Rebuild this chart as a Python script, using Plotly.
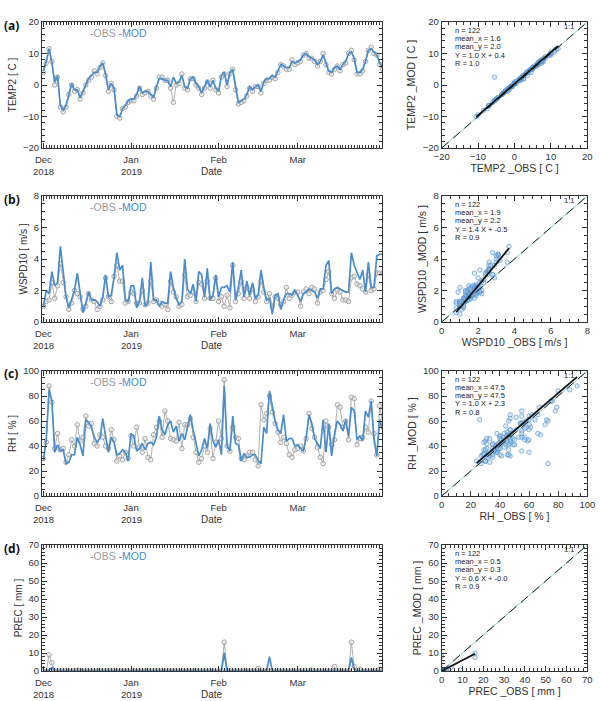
import plotly.graph_objects as go
import pandas as pd

# ---------------- data ----------------
dates = pd.date_range("2018-12-01", periods=122, freq="D")

temp_obs = [4, 7, 11.5, 7.5, 0, 2.5, -7, -8.5, -7, -3,
            0, -2, -1.5, -4.5, -2.5, 0, 1.5, 2.5, 4.5, 3.5,
            5.5, 7, 3, -2, 0.5, -1.5, -10, -10.5, -7.5, -7,
            -5.5, -5, -5, -3.5, -1, -3, -2.5, -2, -3.5, -4.5,
            -1, 2.5, 2.5, 1.5, 1.5, -1, -5.5, 0, 0.5, 3.5,
            -1, -1.5, 2, 2, 0, -1, -3, -1, 1, -1,
            1.5, -1.5, -2.5, 2.5, 3.5, -0.5, 3.5, 5, -1.5, -6,
            -5.5, -5, -3.5, -1, -2, -0.5, -0.5, -2.5, 0.5, 1.5,
            1.5, 2.5, 2, 4, 6.5, 6, 5, 5, 8, 6.5,
            7, 7.5, 9.5, 10, 8.5, 8.5, 7.5, 6, 7.5, 10,
            6.5, 4, 3.5, 5, 6, 4.5, 6.5, 7, 10, 11,
            8, 3.5, 3.5, 4.5, 7.5, 11, 12, 10, 9.5, 6.5,
            5, 4.5]
temp_mod = [4.5, 7.5, 11.5, 7, 1, 3, -6.5, -8, -6.5, -2.5,
            0.5, -1.5, -1.5, -4, -2, 0.5, 2, 3, 4, 4,
            6, 7, 3.5, -1.5, 0.5, -1, -9.5, -10, -7.5, -6.5,
            -5, -4.5, -4.5, -3, -0.5, -2.5, -2, -2, -3, -4,
            -0.5, 2, 2, 1.5, 1.5, -0.5, 2.5, 0.5, 1, 3,
            -0.5, -1, 2, 2.5, 0.5, -0.5, -2.5, -0.5, 1.5, -0.5,
            1.5, -1, -2, 3, 4, 0, 4, 5, -1, -5.5,
            -5, -4.5, -3, -0.5, -1.5, -0.5, 0, -2, 1, 2,
            2, 3, 2.5, 4.5, 6.5, 6, 5.5, 5.5, 7.5, 7,
            7.5, 8, 9.5, 10, 9, 8.5, 8, 6.5, 7.5, 9.5,
            7, 4.5, 4, 5.5, 6, 5, 6.5, 7.5, 10, 10.5,
            8.5, 4, 4, 5, 7.5, 11, 11.5, 10.5, 9.5, 7,
            5.5, 5]

wspd_obs = [1.0, 1.3, 1.4, 2.5, 1.5, 2.3, 3.7, 2.5, 1.6, 0.8,
            1.2, 2.0, 1.8, 1.6, 0.8, 1.0, 1.8, 1.4, 1.3, 0.8,
            1.0, 1.4, 2.8, 1.6, 1.3, 2.9, 3.6, 2.6, 2.6, 1.2,
            1.3, 1.9, 1.8, 1.2, 1.2, 2.0, 1.1, 1.2, 2.6, 1.3,
            1.4, 1.2, 1.0, 1.1, 0.8, 2.6, 1.9, 1.6, 1.0, 1.1,
            3.0, 1.6, 1.7, 1.9, 1.3, 2.5, 2.4, 1.5, 2.6, 1.5,
            1.5, 2.8, 1.3, 1.6, 1.0, 1.7, 0.9, 3.6, 1.3, 1.8,
            2.6, 1.5, 2.2, 1.5, 2.1, 1.3, 1.6, 2.6, 1.9, 1.3,
            1.8, 1.0, 1.6, 1.5, 1.1, 1.3, 2.2, 1.5, 1.7, 1.9,
            1.9, 1.0, 1.9, 2.1, 1.8, 2.2, 2.1, 1.2, 1.9, 2.0,
            2.7, 3.2, 1.8, 1.5, 2.0, 1.9, 1.4, 1.4, 1.3, 2.8,
            2.9, 2.4, 2.3, 2.1, 1.9, 3.0, 2.0, 2.1, 3.1, 3.1,
            3.1, 3.0]
wspd_mod = [1.0, 2.0, 1.8, 3.2, 2.3, 2.5, 4.8, 3.0, 1.6, 0.9,
            1.5, 2.0, 3.1, 1.8, 0.6, 1.2, 1.9, 1.4, 1.4, 1.3,
            1.0, 1.6, 3.0, 1.6, 1.7, 2.8, 4.4, 3.3, 3.6, 1.4,
            1.3, 2.3, 2.3, 0.9, 1.3, 2.8, 1.0, 1.2, 3.8, 1.4,
            1.4, 1.0, 1.3, 1.2, 1.2, 3.2, 2.2, 1.5, 1.1, 1.3,
            4.0, 2.1, 1.8, 2.4, 1.3, 3.2, 3.0, 1.6, 3.4, 1.4,
            1.7, 3.0, 1.6, 2.2, 2.2, 2.3, 1.9, 3.8, 1.4, 2.2,
            3.3, 1.6, 2.6, 1.7, 2.5, 1.5, 1.7, 3.3, 2.2, 1.4,
            1.5, 0.5, 1.7, 1.8, 0.8, 1.4, 1.8, 1.8, 1.7, 2.0,
            1.7, 1.3, 1.8, 1.9, 2.1, 2.0, 1.9, 1.5, 2.1, 2.1,
            3.6, 3.9, 1.8, 2.1, 2.2, 2.1, 2.0, 1.9, 1.9, 4.4,
            3.6, 3.1, 2.7, 3.3, 1.9, 3.8, 2.2, 2.2, 4.2, 4.3,
            4.3, 4.2]

rh_obs = [30, 43, 88, 75, 38, 50, 37, 38, 27, 33,
          45, 40, 57, 44, 47, 64, 56, 58, 42, 40,
          49, 47, 40, 38, 53, 45, 28, 32, 29, 35,
          30, 48, 40, 55, 39, 35, 46, 31, 29, 49,
          55, 60, 47, 68, 60, 46, 45, 44, 59, 38,
          57, 57, 62, 47, 35, 27, 30, 40, 35, 54,
          30, 43, 60, 46, 93, 40, 36, 55, 47, 46,
          30, 29, 32, 35, 35, 29, 24, 73, 61, 66,
          80, 67, 58, 51, 43, 47, 42, 33, 31, 37,
          38, 40, 36, 46, 66, 54, 47, 39, 31, 26,
          60, 55, 41, 45, 73, 71, 55, 60, 45, 79,
          78, 41, 46, 47, 55, 51, 76, 50, 33, 72,
          60, 55]
rh_mod = [28, 45, 85, 76, 35, 41, 36, 37, 26, 27,
          33, 33, 47, 41, 32, 61, 59, 55, 47, 43,
          46, 62, 48, 35, 47, 43, 33, 34, 37, 35,
          28, 50, 48, 36, 38, 42, 37, 42, 43, 41,
          47, 64, 53, 49, 57, 60, 51, 56, 44, 50,
          45, 54, 65, 53, 41, 32, 37, 46, 38, 58,
          44, 39, 45, 33, 88, 40, 36, 64, 42, 41,
          28, 34, 31, 31, 33, 33, 28, 26, 55, 50,
          84, 71, 60, 53, 50, 65, 44, 46, 46, 40,
          41, 38, 36, 47, 65, 58, 46, 42, 38, 61,
          35, 58, 32, 49, 60, 57, 52, 61, 48, 71,
          68, 45, 48, 44, 68, 63, 76, 45, 32, 61,
          53, 50]

prec_obs = [0, 0, 9, 4.5, 0, 0, 0, 0, 0, 0,
            0, 0, 0.5, 0, 0, 0, 0, 0, 0, 0,
            0, 0, 0, 0, 0, 0, 0, 0, 0, 0,
            0, 0, 0, 0, 0, 0, 0, 0, 0, 0,
            0, 0, 0, 0, 0, 0, 0, 0, 0, 0,
            0, 0, 0, 0, 0, 0, 0, 0, 0, 0,
            0, 0, 0, 0, 16, 0, 0, 0, 0, 0,
            0, 0, 0, 0, 0, 0, 1.5, 0, 0, 0,
            0, 0, 0, 0, 0, 0, 0, 0, 0, 0,
            0, 0, 0, 0, 0, 0.5, 0, 0, 0, 0,
            0, 0, 0, 2.5, 0, 0, 0, 0, 0, 16,
            2.5, 0, 1, 0, 0, 0, 0, 0, 0, 1,
            0, 0]
prec_mod = [0, 0, 0.5, 2, 0, 0, 0, 0, 0, 0,
            0, 0, 0, 0, 0, 0, 0, 0, 0, 0,
            0, 0, 0, 0, 0, 0, 0, 0, 0, 0,
            0, 0, 0, 0, 0, 0, 0, 0, 0, 0,
            0, 0, 0, 0, 0, 0, 0, 0, 0, 0,
            0, 0, 0, 0, 0, 0, 0, 0, 0, 0,
            0, 0, 0, 0, 10, 0, 0, 0, 0, 0,
            0, 0, 0, 0, 0, 0, 0, 0, 0, 0,
            8, 0, 0, 0, 0, 0, 0, 0, 0, 0,
            0, 0, 0, 0, 0, 0, 0, 0, 0, 0,
            0, 0, 0, 0, 0, 0, 0, 0, 0, 7.5,
            1, 0, 0, 0, 0, 0, 0, 0, 0, 0,
            0, 0]

panel_labels = ["(a)", "(b)", "(c)", "(d)"]
var_names = ["TEMP2", "WSPD10", "RH", "PREC"]
units = ["C", "m/s", "%", "mm"]
obs_series = [temp_obs, wspd_obs, rh_obs, prec_obs]
mod_series = [temp_mod, wspd_mod, rh_mod, prec_mod]
y_ranges = [[-20, 20], [0, 8], [0, 100], [0, 70]]
y_dticks = [10, 2, 20, 10]
y_minor = [2, 0.5, 5, 2]
stat_n = ["122", "122", "122", "122"]
stat_mean_x = ["1.6", "1.9", "47.5", "0.5"]
stat_mean_y = ["2.0", "2.2", "47.5", "0.3"]
fit_slope = [1.0, 1.4, 1.0, 0.6]
fit_intercept = [0.4, -0.5, 2.3, -0.0]
fit_text = ["Y = 1.0 X + 0.4", "Y = 1.4 X + -0.5", "Y = 1.0 X + 2.3", "Y = 0.6 X + -0.0"]
stat_r = ["1.0", "0.9", "0.8", "0.9"]

month_ticks = ["2018-12-01", "2019-01-01", "2019-02-01", "2019-03-01"]
month_labels = ["Dec", "Jan", "Feb", "Mar"]
year_ticks = ["2018-12-01", "2019-01-01"]
year_labels = ["2018", "2019"]

# ---------------- style ----------------
FONT = "Liberation Sans, Arial, sans-serif"
AX = "#333333"
BLUE = "#4a8ccc"
GRAY = "#9c9c9c"

W, H = 600, 701
left_x = [42 / W, 382 / W]
right_x = [441.7 / W, 587.3 / W]
rows_px = [(22, 148), (196, 322), (371, 496), (545, 671)]

fig = go.Figure()
layout = dict(
    width=W, height=H, margin=dict(l=0, r=0, t=0, b=0),
    paper_bgcolor="white", plot_bgcolor="white",
    showlegend=False, font=dict(family=FONT, size=9, color=AX),
)
annotations = []


def ref(n):
    return ("x", "y") if n == 1 else (f"x{n}", f"y{n}")


def lay(n):
    return ("xaxis", "yaxis") if n == 1 else (f"xaxis{n}", f"yaxis{n}")


def base_axis():
    return dict(
        showline=True, linecolor=AX, linewidth=1, mirror="ticks",
        ticks="inside", ticklen=5, tickwidth=1, tickcolor=AX,
        showgrid=False, zeroline=False, automargin=False,
        tickfont=dict(family=FONT, size=9.5, color=AX),
    )


for i in range(4):
    top, bot = rows_px[i]
    ydom = [1 - bot / H, 1 - top / H]
    lx, ly = ref(2 * i + 1)
    rx, ry = ref(2 * i + 2)
    lxa, lya = lay(2 * i + 1)
    rxa, rya = lay(2 * i + 2)
    obs = obs_series[i]
    mod = mod_series[i]

    # ---- time series ----
    fig.add_trace(go.Scatter(x=dates, y=obs, mode="lines+markers", xaxis=lx, yaxis=ly,
                             line=dict(color=GRAY, width=0.8),
                             marker=dict(symbol="circle", size=4.5, color="rgba(235,235,235,0.6)",
                                         line=dict(width=0.9, color=GRAY))))
    fig.add_trace(go.Scatter(x=dates, y=mod, mode="lines", xaxis=lx, yaxis=ly,
                             line=dict(color=BLUE, width=1.7)))

    ax = base_axis()
    ax.update(domain=left_x, anchor=ly, type="date",
              range=["2018-11-30 12:00", "2019-03-30 20:00"],
              tickmode="array", tickvals=month_ticks, ticktext=month_labels,
              ticklabelstandoff=3,
              minor=dict(ticks="inside", ticklen=3, tickcolor=AX, dtick=86400000,
                         tick0="2018-12-01"))
    layout[lxa] = ax
    ay = base_axis()
    ay.update(domain=ydom, anchor=lx, range=y_ranges[i], dtick=y_dticks[i], tick0=0,
              minor=dict(ticks="inside", ticklen=3, tickcolor=AX, dtick=y_minor[i]),
              title=dict(text=f"{var_names[i]} [ {units[i]} ]",
                         font=dict(family=FONT, size=10, color=AX), standoff=4))
    layout[lya] = ay

    for yt, yl in zip(year_ticks, year_labels):
        annotations.append(dict(
            xref=lx, yref="paper", x=yt, y=1 - (bot + 23) / H,
            xanchor="center", yanchor="middle", showarrow=False, text=yl,
            font=dict(family=FONT, size=9.5, color=AX)))
    annotations.append(dict(
        xref=f"{lx} domain", yref="paper", x=0.5, y=1 - (bot + 23.5) / H,
        xanchor="center", yanchor="middle", showarrow=False, text="Date",
        font=dict(family=FONT, size=10, color=AX)))

    annotations.append(dict(
        xref=f"{lx} domain", yref=f"{ly} domain", x=0.135, y=0.91,
        xanchor="left", yanchor="middle", showarrow=False,
        text=f"<span style='color:{GRAY}'>-OBS</span> <span style='color:{BLUE}'>-MOD</span>",
        font=dict(family=FONT, size=10.5)))
    annotations.append(dict(
        xref="paper", yref="paper", x=2 / W, y=1 - (top + 3) / H,
        xanchor="left", yanchor="middle", showarrow=False,
        text=f"<b>{panel_labels[i]}</b>", font=dict(family="Open Sans, sans-serif", size=12, color="#111")))

    # ---- scatter ----
    lo, hi = y_ranges[i]
    fig.add_trace(go.Scatter(x=[lo, hi], y=[lo, hi], mode="lines", xaxis=rx, yaxis=ry,
                             line=dict(color="#b4e0e0", width=1.2)))
    fig.add_trace(go.Scatter(x=obs, y=mod, mode="markers", xaxis=rx, yaxis=ry,
                             marker=dict(symbol="circle", size=4.5, color="rgba(150,190,230,0.3)",
                                         line=dict(color="rgba(80,145,205,0.75)", width=0.8))))
    fig.add_trace(go.Scatter(x=[lo, hi], y=[lo, hi], mode="lines", xaxis=rx, yaxis=ry,
                             line=dict(color="#222", width=1, dash="9px,6px")))
    x0, x1 = min(obs), max(obs)
    fig.add_trace(go.Scatter(x=[x0, x1],
                             y=[fit_slope[i] * x0 + fit_intercept[i], fit_slope[i] * x1 + fit_intercept[i]],
                             mode="lines", xaxis=rx, yaxis=ry,
                             line=dict(color="#111", width=1.8)))

    bx = base_axis()
    bx.update(domain=right_x, anchor=ry, range=y_ranges[i], dtick=y_dticks[i], tick0=0,
              minor=dict(ticks="inside", ticklen=3, tickcolor=AX, dtick=y_minor[i]),
              title=dict(text=f"{var_names[i]} _OBS [ {units[i]} ]",
                         font=dict(family=FONT, size=10.5, color=AX), standoff=0))
    layout[rxa] = bx
    by = base_axis()
    by.update(domain=ydom, anchor=rx, range=y_ranges[i], dtick=y_dticks[i], tick0=0,
              minor=dict(ticks="inside", ticklen=3, tickcolor=AX, dtick=y_minor[i]),
              title=dict(text=f"{var_names[i]} _MOD [ {units[i]} ]",
                         font=dict(family=FONT, size=10.5, color=AX), standoff=4))
    layout[rya] = by

    stat_lines = [f"n = {stat_n[i]}", f"mean_x = {stat_mean_x[i]}", f"mean_y = {stat_mean_y[i]}",
                  fit_text[i], f"R = {stat_r[i]}"]
    for k, s in enumerate(stat_lines):
        annotations.append(dict(
            xref=f"{rx} domain", yref=f"{ry} domain", x=0.075, y=0.935 - k * 0.066,
            xanchor="left", yanchor="middle", showarrow=False, text=s,
            font=dict(family=FONT, size=7.5, color="#222")))
    annotations.append(dict(
        xref=f"{rx} domain", yref=f"{ry} domain", x=0.925, y=0.965,
        xanchor="right", yanchor="middle", showarrow=False, text="1:1",
        font=dict(family=FONT, size=7.5, color="#222")))

layout["annotations"] = annotations
fig.update_layout(**layout)
fig.write_html("out.html")
